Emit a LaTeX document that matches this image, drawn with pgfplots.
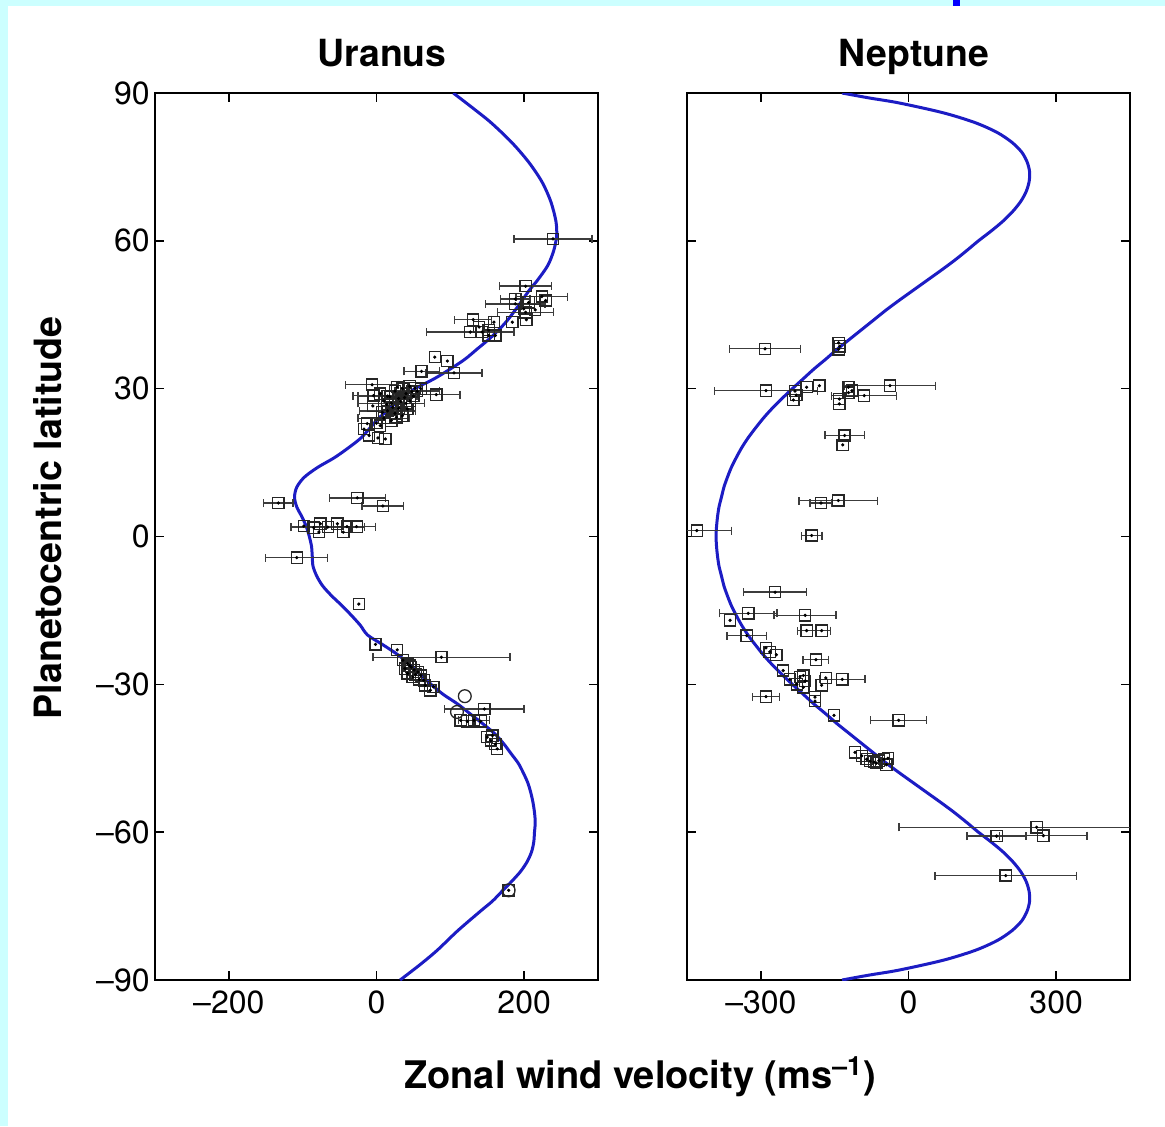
\documentclass[border=0pt]{standalone}
\usepackage{fontspec}
\setmainfont{TeX Gyre Heros}
\usepackage{pgfplots}
\usepackage{pgfplotstable}
\pgfplotsset{compat=1.18}
\definecolor{cyanbg}{RGB}{204,255,255}
\definecolor{modelblue}{RGB}{28,28,196}
\definecolor{barcol}{RGB}{60,60,60}

% Uranus model profile
\pgfplotstableread{
lat x
90 104
87 130
84 155
80 183
76 206
72 224
68 236
64 243
61 244
58 240
55 232
52 218
50 207
47 193
44 178
42 166
40 152
38 136
36 120
34 100
32 78
30 52
28 33
26 18
24 3
22 -9
20 -21
18 -38
16 -57
14 -80
12 -98
10 -108
8 -111
6 -108
4 -101
2 -95
0 -91
-2 -88
-4 -87
-6 -86
-8 -81
-10 -73
-12 -61
-14 -47
-16 -34
-18 -22
-20 -12
-22 9
-24 29
-26 45
-28 59
-30 74
-32 90
-34 110
-36 127
-38 144
-40 160
-42 172
-44 182
-46 192
-48 199
-50 205
-52 209
-54 212
-56 214
-58 215
-60 214
-62 213
-64 210
-66 204
-68 195
-70 183
-72 170
-74 157
-76 141
-80 110
-84 82
-87 58
-90 32
}\uranusmodel

% Neptune model profile
\pgfplotstableread{
lat x
90 -135
89 -80
88 -20
86 70
84 135
82 180
80 210
78 230
76 241
74 246
72 245
70 239
68 228
66 212
64 192
62 168
60 142
58 118
56 93
54 66
52 38
50 10
48 -18
46 -45
44 -70
42 -95
40 -120
38 -145
36 -168
34 -192
32 -214
30 -236
28 -257
26 -277
24 -295
22 -311
20 -326
18 -339
16 -350
14 -360
12 -368
10 -375
8 -380
6 -385
4 -388
2 -390
0 -391
-2 -390
-4 -388
-6 -385
-8 -380
-10 -375
-12 -368
-14 -360
-16 -350
-18 -339
-20 -326
-22 -311
-24 -295
-26 -277
-28 -257
-30 -236
-32 -214
-34 -192
-36 -168
-38 -145
-40 -120
-42 -95
-44 -70
-46 -45
-48 -18
-50 10
-52 38
-54 66
-56 93
-58 118
-60 142
-62 168
-64 192
-66 212
-68 228
-70 239
-72 245
-74 246
-76 241
-78 230
-80 210
-82 180
-84 135
-86 70
-88 -20
-89 -80
-90 -135
}\neptunemodel

% Uranus measurements with error bars
\pgfplotstableread{
x lat xe
239 60.4 53
202 50.8 35
224 48.7 35
188 48.2 20
188 47.2 40
202 45.5 38
131 44.0 25
127 41.5 59
61 33.5 24
105 33.2 38
-6 30.8 36
81 28.8 32
15 28.5 40
55 29.5 30
20 27 45
15 25.5 38
10 24 35
-4 28.6 28
-133 6.8 20
-26 7.85 38
8.6 6.2 28
-27 2.0 26
-66 1.9 50
-108 -4.3 42
88 -24.5 93
146 -35 54
132 -37.3 21
}\uranuserr

% Uranus measurements without visible error bars
\pgfplotstableread{
x lat
229 47.9
206 47.5
199.5 46.2
215 46.0
184 43.5
203 44.0
159 43.5
139 42.5
143 41.5
152 41.9
152 40.8
161 40.8
79 36.4
96 35.6
5 29
25 29.5
30 28
35 30
40 29
45 30.5
50 28.5
40 27
30 26
10 27.5
25 25
35 24.5
20 23.5
-5 26.5
0 23
5 22.5
60 30
45 27.5
28 30.3
38 28.2
48 29.4
33 27.4
22 26.2
14 26.8
27 24.2
8 25.2
18 28.4
52 30.1
42 25.9
-17 21.8
-12.6 22.9
-10 20.5
2 20
12 19.8
-76 2.6
-53 2.6
-40 2.0
-78 0.9
-45 0.9
-98.5 2.1
-85 1.8
-24 -13.7
-1.4 -21.9
28 -23
35.7 -25.1
42 -25.8
47 -26.5
51 -27.1
56 -27.5
60 -28.2
49 -28.5
64 -29.2
42 -27.8
38.5 -26.8
45 -26.2
53 -28.0
58 -29.0
66 -30.2
73 -31.2
77 -30.5
114 -37.3
123 -37.5
141 -37.5
150 -40.7
155 -41.4
161 -42.1
163.5 -43.1
157 -40.4
179 -71.8
}\uranusnoerr

\pgfplotstableread{
x lat
119.6 -32.4
109 -35.6
179 -71.8
}\uranuscirc

% Neptune measurements with error bars
\pgfplotstableread{
x lat xe
-291.5 38.1 72
-289.5 29.6 105
-37.6 30.6 92
-90 28.6 66
-130 20.5 40
-142.6 7.3 80
-177.8 6.8 22
-430 1.2 70
-196.7 0.2 21
-271 -11.3 64
-325.5 -15.6 58
-210 -16.0 63
-207 -19.1 18
-176.5 -19.1 18
-328.7 -20.1 40
-188 -25 26
-134.5 -29 46
-289.5 -32.5 27
-20 -37.3 57
260.4 -59 280
179 -60.8 60
274 -60.7 89
197.5 -68.8 144
}\neptuneerr

% Neptune measurements without visible error bars
\pgfplotstableread{
x lat
-142 39.3
-140 38.6
-142 38.0
-181 30.6
-207 30.3
-230.6 29.5
-228 28.7
-234 27.7
-122 30.3
-115 29.6
-122 29.2
-140.6 26.9
-140.6 27.9
-133.7 18.6
-362.6 -17.0
-289.5 -22.6
-282 -23.4
-268.6 -24
-254.6 -27.2
-241 -29
-220.4 -28.5
-213.7 -28.2
-210 -29.3
-227 -30
-213.7 -30.6
-168 -28.7
-176.5 -30.2
-190 -32.6
-190 -33.4
-151.4 -36.3
-108.7 -43.8
-95 -44.5
-85 -45.2
-78 -45.6
-70 -45.8
-60 -45.5
-50 -45.2
-42 -45.0
-45 -46.3
-65 -46
}\neptunenoerr

\pgfplotsset{
  planet/.style={
    scale only axis, width=221.5pt, height=443.5pt,
    anchor=south west,
    ymin=-90, ymax=90, ytick={-90,-60,-30,0,30,60,90},
    tick align=inside, major tick length=4.5pt,
    xtick pos=both, ytick pos=both,
    axis line style={line width=0.8pt},
    every tick/.style={line width=0.8pt, black},
    tick label style={font=\fontsize{16}{18}\selectfont, inner sep=1pt},
    xticklabel style={yshift=-4pt},
    yticklabel style={xshift=-1.5pt},
    title style={font=\fontsize{18.7}{22}\selectfont\bfseries, at={(0.5,1)}, anchor=base, yshift=7.5pt, xshift=2.75pt},
  },
  errplot/.style={only marks, mark=square, mark size=2.8pt,
    mark options={line width=0.65pt, draw=black!85, fill=none},
    error bars/.cd, x dir=both, x explicit, error mark=|,
    error bar style={line width=0.7pt, barcol},
    error mark options={mark size=2pt, line width=0.7pt, barcol}},
  sqplot/.style={only marks, mark=square, mark size=2.8pt,
    mark options={line width=0.65pt, draw=black!85, fill=none}},
  dotplot/.style={only marks, mark=*, mark size=0.6pt, black},
}

\begin{document}
\begin{tikzpicture}
\path[use as bounding box] (-77.5pt,-73pt) rectangle (505pt,490pt);
\fill[cyanbg] (-77.5pt,-73pt) rectangle (505pt,490pt);
\fill[white] (-73.5pt,-73pt) rectangle (505pt,487pt);
\fill[blue] (399pt,487pt) rectangle (402.5pt,490pt);

\begin{axis}[planet, at={(0pt,0pt)},
  xmin=-300, xmax=300, xtick={-200,0,200},
  xticklabels={\textendash200,0,200},
  yticklabels={\textendash90,\textendash60,\textendash30,0,30,60,90},
  title={Uranus},
  xlabel={Zonal wind velocity (ms\textsuperscript{\textendash1})},
  xlabel style={at={(axis description cs:1.0948,-0.1218)}, anchor=base,
    font=\fontsize{19}{22}\selectfont\bfseries},
  ylabel={Planetocentric latitude},
  ylabel style={at={(axis description cs:-0.2415,0.5209)}, anchor=center,
    font=\fontsize{18.8}{22}\selectfont\bfseries},
]
\addplot[modelblue, line width=1.5pt, smooth] table[x=x, y=lat] \uranusmodel;
\addplot[errplot] table[x=x, y=lat, x error=xe] \uranuserr;
\addplot[sqplot] table[x=x, y=lat] \uranusnoerr;
\addplot[only marks, mark=o, mark size=3.2pt, mark options={line width=0.65pt, draw=black!85}] table[x=x, y=lat] \uranuscirc;
\addplot[dotplot] table[x=x, y=lat] \uranuserr;
\addplot[dotplot] table[x=x, y=lat] \uranusnoerr;
\end{axis}

\begin{axis}[planet, at={(266pt,0pt)},
  xmin=-450, xmax=450, xtick={-300,0,300},
  xticklabels={\textendash300,0,300},
  yticklabels={},
  title={Neptune},
]
\addplot[modelblue, line width=1.5pt, smooth] table[x=x, y=lat] \neptunemodel;
\addplot[errplot] table[x=x, y=lat, x error=xe] \neptuneerr;
\addplot[sqplot] table[x=x, y=lat] \neptunenoerr;
\addplot[dotplot] table[x=x, y=lat] \neptuneerr;
\addplot[dotplot] table[x=x, y=lat] \neptunenoerr;
\end{axis}
\end{tikzpicture}
\end{document}
